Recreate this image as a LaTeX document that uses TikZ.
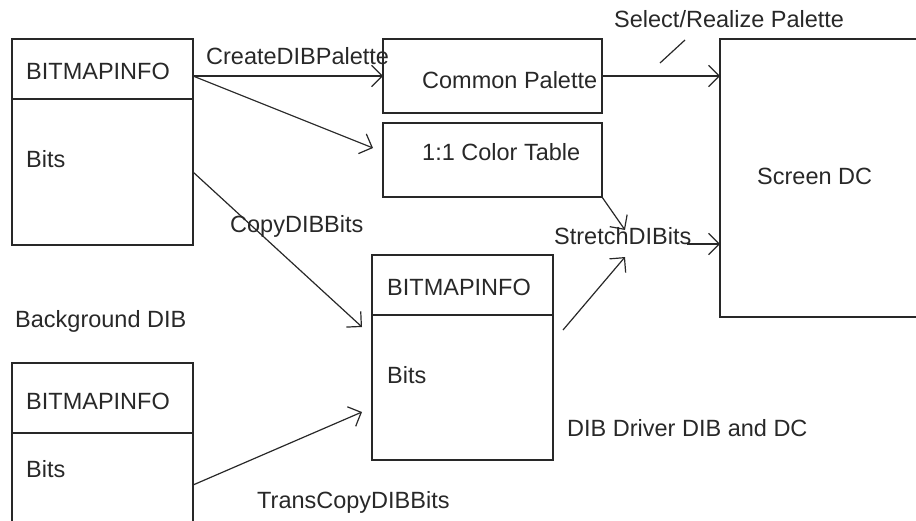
\documentclass[tikz,border=0pt]{standalone}
\usepackage{fontspec}
\setmainfont{Liberation Sans}
\usetikzlibrary{arrows.meta}
\definecolor{ink}{RGB}{40,40,40}
\begin{document}
\begin{tikzpicture}[x=1pt,y=-1pt,
  box/.style={draw=ink, line width=1.4pt, anchor=north west, inner sep=0pt, outer sep=0pt},
  lbl/.style={anchor=base west, inner sep=0pt, text=ink, font=\fontsize{23.5}{28}\selectfont},
  arr/.style={draw=ink, line width=1.2pt, -{Straight Barb[angle=90:15pt]}},
  leader/.style={draw=ink, line width=1.2pt}]
\useasboundingbox (0,0) rectangle (916,520);
\clip (0,0) rectangle (916,520);
% boxes
\node[box, minimum width=181pt, minimum height=60pt]  (ah) at (12,39) {};
\node[box, minimum width=181pt, minimum height=146pt] (ab) at (12,99) {};
\node[box, minimum width=181pt, minimum height=70pt]  (bh) at (12,363) {};
\node[box, minimum width=181pt, minimum height=120pt] (bb) at (12,433) {};
\node[box, minimum width=181pt, minimum height=60pt]  (ch) at (372,255) {};
\node[box, minimum width=181pt, minimum height=145pt] (cb) at (372,315) {};
\node[box, minimum width=219pt, minimum height=74pt]  (cp) at (383,39) {};
\node[box, minimum width=219pt, minimum height=74pt]  (ct) at (383,123) {};
\node[box, minimum width=230pt, minimum height=278pt] (sd) at (720,39) {};
% labels
\node[lbl] (t1) at (26,79) {BITMAPINFO};
\node[lbl] (t2) at (26,167) {Bits};
\node[lbl] (t3) at (206,64) {CreateDIBPalette};
\node[lbl] (t4) at (422,88) {Common Palette};
\node[lbl] (t5) at (422,160) {1:1 Color Table};
\node[lbl] (t6) at (757,184) {Screen DC};
\node[lbl] (t7) at (614,27) {Select/Realize Palette};
\node[lbl] (t8) at (554,244) {StretchDIBits};
\node[lbl] (t9) at (230,232) {CopyDIBBits};
\node[lbl] (t10) at (15,327) {Background DIB};
\node[lbl] (t11) at (26,409) {BITMAPINFO};
\node[lbl] (t12) at (26,477) {Bits};
\node[lbl] (t13) at (387,295) {BITMAPINFO};
\node[lbl] (t14) at (387,383) {Bits};
\node[lbl] (t15) at (567,436) {DIB Driver DIB and DC};
\node[lbl] (t16) at (257,508) {TransCopyDIBBits};
% connector end points
\coordinate (ctin) at (373,148);
\coordinate (cbin) at (362,327);
\coordinate (bbin) at (362,412);
\coordinate (stA) at (625,230);
\coordinate (stB) at (625,257);
\coordinate (cout) at (563,330);
\coordinate (sdin) at (687,244);
\coordinate (s1) at (660,63);
\coordinate (s2) at (685,40);
% connectors
\draw[arr] (ah.east |- cp.west) -- (cp.west);
\draw[arr] (ah.east |- cp.west) -- (ctin);
\draw[arr] (cp.east) -- (cp.east -| sd.west);
\draw[leader] (s1) -- (s2);
\draw[arr] (ct.south east) -- (stA);
\draw[arr] (cout) -- (stB);
\draw[arr] (sdin) -- (sdin -| sd.west);
\draw[arr] (ab.east) -- (cbin);
\draw[arr] ([yshift=8pt]bb.east) -- (bbin);
\end{tikzpicture}
\end{document}
